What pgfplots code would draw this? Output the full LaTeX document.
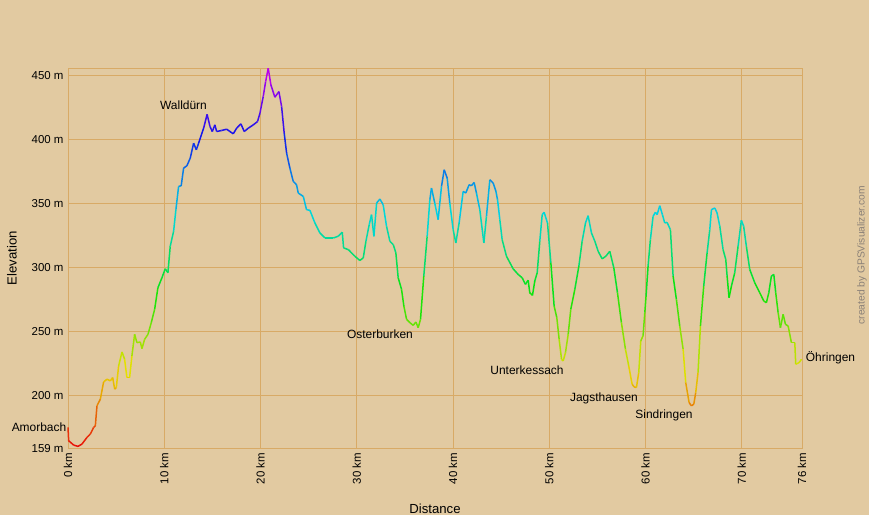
\documentclass[border=0pt]{standalone}
\usepackage{fontspec}
\setmainfont{Liberation Sans}
\usepackage{pgfplots}
\pgfplotsset{compat=1.18}
\definecolor{bgc}{RGB}{226,202,161}
\definecolor{gridc}{RGB}{216,170,102}
\definecolor{credc}{RGB}{140,130,120}
\begin{document}
\begin{tikzpicture}
\fill[bgc] (-68bp,-66.7bp) rectangle (801bp,448.3bp);
\useasboundingbox (-68bp,-66.7bp) rectangle (801bp,448.3bp);
\begin{axis}[
  at={(0,0)}, anchor=south west, scale only axis,
  width=734bp, height=380bp,
  xmin=0, xmax=76.25, ymin=159, ymax=456,
  axis line style={draw=gridc, line width=1bp},
  grid=major, major grid style={draw=gridc, line width=1bp},
  tick style={draw=none}, major tick length=0pt,
  xtick={0,10,20,30,40,50,60,70,76.25},
  xticklabels={0 km,10 km,20 km,30 km,40 km,50 km,60 km,70 km,76 km},
  ytick={159,200,250,300,350,400,450},
  yticklabels={159 m,200 m,250 m,300 m,350 m,400 m,450 m},
  xticklabel style={rotate=90, anchor=east, xshift=-1bp, font=\fontsize{11.5}{13}\selectfont},
  yticklabel style={anchor=east, xshift=-1bp, font=\fontsize{11.5}{13}\selectfont},
  /pgf/number format/assume math mode=true,
  colormap={gps}{rgb255(0cm)=(232,10,10) rgb255(60cm)=(232,225,0) rgb255(120cm)=(10,228,10) rgb255(180cm)=(0,215,228) rgb255(240cm)=(20,20,235) rgb255(290cm)=(205,0,235)},
  point meta min=159, point meta max=456,
  clip=false,
]
\addplot[mesh, point meta=y, line width=1.5bp] table {
x y
0.00 175.3
0.07 164.9
0.59 161.5
1.04 160.5
1.45 162.3
1.97 167.5
2.32 170.1
2.66 175.3
2.84 176.6
3.01 192.2
3.36 197.4
3.70 210.9
4.05 213.0
4.40 211.7
4.64 214.3
4.85 205.2
5.02 206.5
5.26 223.4
5.61 234.3
5.88 228.6
6.12 214.3
6.40 214.3
6.64 231.2
6.92 248.1
7.16 241.6
7.51 242.1
7.68 236.9
7.96 244.2
8.31 248.1
8.65 257.2
9.00 267.6
9.34 284.5
9.76 292.3
10.10 299.3
10.38 296.2
10.62 316.9
10.97 328.6
11.21 345.5
11.49 363.7
11.76 364.2
12.01 378.0
12.35 379.8
12.70 385.8
13.05 397.5
13.33 392.3
13.57 397.5
14.09 409.2
14.45 420.0
14.75 410.5
14.99 406.6
15.26 411.8
15.44 406.6
15.96 407.4
16.48 408.4
16.82 406.6
17.17 404.8
17.52 409.2
17.96 412.6
18.31 406.6
18.73 409.2
19.25 411.8
19.69 414.4
19.94 420.9
20.28 433.9
20.53 445.6
20.80 456.0
21.08 443.0
21.49 433.4
21.91 437.8
22.19 426.1
22.46 405.3
22.71 389.7
23.05 378.0
23.40 367.6
23.74 365.0
23.92 358.5
24.44 355.9
24.78 345.5
25.13 345.0
25.65 335.1
26.17 327.3
26.69 323.4
27.56 323.4
28.07 324.7
28.49 327.9
28.63 315.6
29.12 314.3
29.80 309.1
30.32 305.8
30.67 307.8
30.95 320.8
31.29 333.8
31.53 341.6
31.78 324.7
32.06 350.7
32.40 353.8
32.74 349.4
33.09 332.5
33.44 320.8
33.79 318.2
34.06 311.7
34.30 292.3
34.65 283.2
34.89 270.2
35.17 259.8
35.52 257.2
35.86 255.1
36.14 257.7
36.38 253.3
36.62 259.8
36.96 293.6
37.31 324.7
37.59 353.3
37.76 362.4
38.10 350.7
38.45 337.7
38.80 363.7
39.08 376.7
39.39 370.2
39.66 350.7
40.01 329.9
40.29 319.5
40.63 335.1
41.05 359.8
41.32 358.5
41.67 365.0
41.91 364.2
42.19 366.8
42.43 358.5
42.78 345.5
43.20 319.5
43.47 340.3
43.82 368.9
44.17 366.3
44.45 360.0
44.62 353.3
44.86 337.7
45.10 322.1
45.55 309.1
46.24 299.3
46.76 294.9
47.18 292.3
47.52 287.1
47.80 290.4
47.97 280.6
48.25 278.5
48.49 289.7
48.74 296.2
49.01 320.8
49.26 341.6
49.46 343.5
49.81 335.1
50.16 304.0
50.50 270.2
50.78 261.1
51.02 244.2
51.27 228.6
51.44 227.3
51.68 233.8
51.96 248.1
52.23 267.6
52.65 283.2
53.07 301.4
53.41 320.8
53.76 335.1
54.03 340.8
54.38 327.3
54.73 320.8
55.07 313.0
55.49 307.1
55.87 309.1
56.28 313.0
56.70 300.1
57.08 280.6
57.49 257.2
57.91 236.4
58.25 223.4
58.60 209.1
58.81 207.0
59.05 206.5
59.29 218.2
59.50 242.9
59.74 247.0
59.92 265.0
60.05 278.0
60.26 301.4
60.50 322.1
60.78 340.3
61.02 343.5
61.20 341.6
61.47 348.6
61.75 341.6
61.99 335.1
62.23 335.6
62.58 329.9
62.86 293.6
63.20 275.4
63.55 254.6
63.90 236.4
64.17 210.4
64.52 194.8
64.76 192.2
65.01 193.5
65.21 202.6
65.45 218.2
65.70 254.6
66.04 285.8
66.39 311.7
66.67 329.9
66.84 345.5
67.19 346.8
67.43 342.9
67.71 332.5
68.05 314.3
68.33 306.6
68.47 293.6
68.67 276.7
68.92 285.8
69.26 296.2
69.61 316.9
69.95 337.2
70.19 332.5
70.47 316.9
70.82 298.8
71.34 288.4
71.86 280.6
72.28 274.1
72.55 272.8
72.80 280.6
73.07 293.6
73.32 294.9
73.52 280.6
73.77 265.0
74.01 253.3
74.29 263.7
74.53 255.9
74.81 254.6
75.15 241.6
75.50 241.6
75.60 224.7
75.95 226.0
76.20 228.6
};
\end{axis}
\begin{scope}[font=\fontsize{12}{14}\selectfont]
\node at (115.5bp,343.3bp) {Walldürn};
\node at (312bp,114.3bp) {Osterburken};
\node at (459bp,78.3bp) {Unterkessach};
\node at (536bp,50.3bp) {Jagsthausen};
\node at (596bp,33.3bp) {Sindringen};
\node at (762.5bp,90.3bp) {Öhringen};
\node at (-29bp,21.3bp) {Amorbach};
\end{scope}
\node[rotate=90, font=\fontsize{13.2}{15}\selectfont] at (-56bp,190bp) {Elevation};
\node[font=\fontsize{13.2}{15}\selectfont] at (367bp,-60bp) {Distance};
\node[rotate=90, text=credc, font=\fontsize{10.3}{12}\selectfont] at (794bp,193bp) {created by GPSVisualizer.com};
\end{tikzpicture}
\end{document}
